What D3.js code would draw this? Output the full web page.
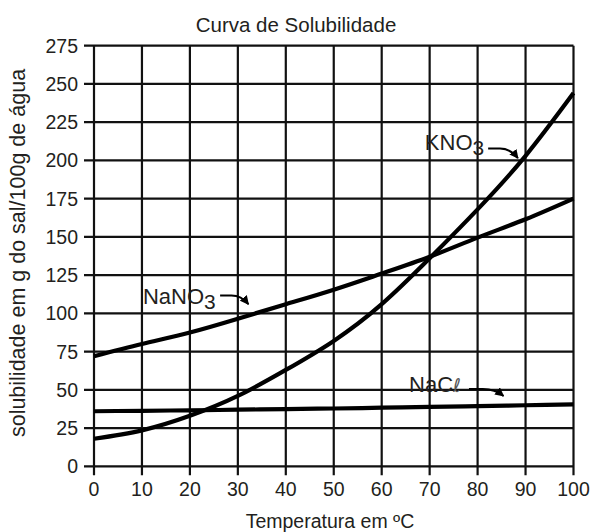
<!DOCTYPE html>
<html><head><meta charset="utf-8">
<script src="https://cdn.jsdelivr.net/npm/d3@7"></script>
<style>body{margin:0;background:#fff}svg{display:block}text{font-family:"Liberation Sans",Arial,sans-serif;fill:#231f20}</style>
</head><body>
<svg id="c" width="592" height="532"></svg>
<script>
const temps = [0,10,20,30,40,50,60,70,80,90,100];
const kno3  = [18,23.5,33,46,63,82,106,136,168,203,244];
const nano3 = [72,80,87.5,96.5,106,115.5,126,137,149.5,161.5,175];
const nacl  = [36,36.3,36.6,37,37.4,37.8,38.3,38.8,39.3,39.9,40.5];
const xTicks = [0,10,20,30,40,50,60,70,80,90,100];
const yTicks = [0,25,50,75,100,125,150,175,200,225,250,275];
const title = "Curva de Solubilidade";
const xLabel = "Temperatura em ºC";
const yLabel = "solubilidade em g do sal/100g de água";

const svg = d3.select("#c");
const x = d3.scaleLinear().domain([0,100]).range([94,573.5]);
const y = d3.scaleLinear().domain([0,275]).range([466.3,45.7]);

// grid
const g = svg.append("g");
g.selectAll(".h").data(yTicks).join("line")
  .attr("x1",x(0)-10).attr("x2",x(100)).attr("y1",d=>y(d)).attr("y2",d=>y(d))
  .attr("stroke","#111").attr("stroke-width",2.2);
g.selectAll(".v").data(xTicks).join("line")
  .attr("y1",y(0)+9).attr("y2",y(275)).attr("x1",d=>x(d)).attr("x2",d=>x(d))
  .attr("stroke","#111").attr("stroke-width",2.2);

// tick labels
svg.selectAll(".yl").data(yTicks).join("text")
  .attr("x",78).attr("y",d=>y(d)+7).attr("text-anchor","end")
  .attr("font-size",19.5).text(d=>d);
svg.selectAll(".xl").data(xTicks).join("text")
  .attr("x",d=>x(d)).attr("y",496).attr("text-anchor","middle")
  .attr("font-size",19.5).text(d=>d);

svg.append("text").attr("x",296).attr("y",32).attr("text-anchor","middle").attr("font-size",20.5).text(title);
svg.append("text").attr("x",330).attr("y",528).attr("text-anchor","middle").attr("font-size",19.5).text(xLabel);
svg.append("text").attr("transform","translate(25,253) rotate(-90)").attr("text-anchor","middle").attr("font-size",21.5).text(yLabel);

// curves
const line = d3.line().x((d,i)=>x(temps[i])).y(d=>y(d)).curve(d3.curveNatural);
[kno3,nano3,nacl].forEach(s=>{
  svg.append("path").attr("d",line(s)).attr("fill","none").attr("stroke","#000").attr("stroke-width",4.2);
});

// arrow marker
svg.append("defs").append("marker").attr("id","ah").attr("viewBox","0 0 10 10")
  .attr("refX",9).attr("refY",5).attr("markerWidth",9).attr("markerHeight",9)
  .attr("markerUnits","userSpaceOnUse").attr("orient","auto")
  .append("path").attr("d","M0,0 L10,5 L0,10 Z").attr("fill","#000");

function label(txt, sub, lx, ly, fs){
  const t = svg.append("text").attr("x",x(lx)).attr("y",y(ly)).attr("font-size",fs);
  t.append("tspan").text(txt);
  if(sub) t.append("tspan").attr("dy",5).attr("font-size",fs*0.95).text(sub);
  return t;
}
function arrow(x0,y0,x1,y1){
  const p = d3.path();
  const sx=x(x0), sy=y(y0), ex=x(x1), ey=y(y1);
  p.moveTo(sx,sy); p.lineTo(sx+(ex-sx)*0.4, sy);
  p.quadraticCurveTo(sx+(ex-sx)*0.75, sy, ex, ey);
  svg.append("path").attr("d",p.toString()).attr("fill","none").attr("stroke","#000").attr("stroke-width",2).attr("marker-end","url(#ah)");
}
label("KNO","3",69,206.5,22);
arrow(82.2,207.8,88.4,201.5);
label("NaNO","3",10.2,106,22);
arrow(26.3,111.7,32.2,106);
const nt = label("NaC","",65.7,48.5,22);
nt.append("tspan").attr("font-family","DejaVu Sans").attr("font-size",19).attr("font-style","italic").attr("fill","#555").text("ℓ");
arrow(78.2,50.5,85.4,46);
</script>
</body></html>
